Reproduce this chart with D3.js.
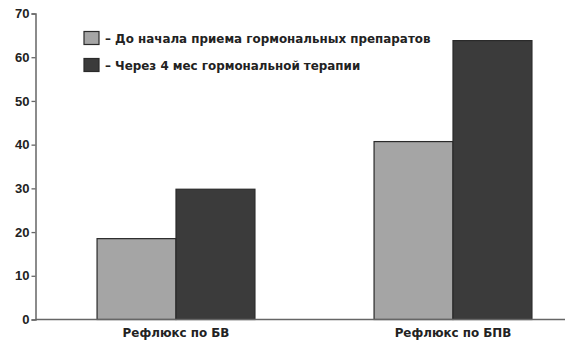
<!DOCTYPE html>
<html><head><meta charset="utf-8">
<script src="https://cdn.jsdelivr.net/npm/d3@7"></script>
<style>html,body{margin:0;padding:0;background:#fff;}svg{display:block;}</style>
</head><body>
<svg id="c" width="565" height="343"></svg>
<script>
const categories = ["Рефлюкс по БВ", "Рефлюкс по БПВ"];
const seriesNames = ["– До начала приема гормональных препаратов", "– Через 4 мес гормональной терапии"];
const before = [18.5, 40.7];
const after = [29.8, 63.8];
const yTicks = [0, 10, 20, 30, 40, 50, 60, 70];
const colors = ["#a5a5a5", "#3b3b3b"];

const svg = d3.select("#c");
const font = "'Liberation Sans', Arial, sans-serif";
const font2 = "'DejaVu Sans', sans-serif";
const y = d3.scaleLinear().domain([0, 70]).range([319.5, 13.5]);
const x = d3.scaleBand().domain(categories).range([37.5, 591.5]).paddingInner(0.43).paddingOuter(0.215);
const series = [before, after];
const xs = d3.scaleBand().domain([0, 1]).range([0, x.bandwidth()]);

// bars
categories.forEach((c, i) => {
  series.forEach((s, k) => {
    svg.append("rect")
      .attr("x", x(c) + xs(k))
      .attr("y", y(s[i]))
      .attr("width", xs.bandwidth())
      .attr("height", y(0) - y(s[i]))
      .attr("fill", colors[k])
      .attr("stroke", "#2a2a2a")
      .attr("stroke-width", 1.2);
  });
});

// baseline
svg.append("line").attr("x1", 35.5).attr("x2", 565).attr("y1", y(0)).attr("y2", y(0))
  .attr("stroke", "#666").attr("stroke-width", 1.5);

// y axis
const ax = svg.append("g").attr("transform", "translate(35.5,0)")
  .call(d3.axisLeft(y).tickValues(yTicks).tickSize(4).tickPadding(2).tickFormat(d3.format("d")));
ax.select(".domain").attr("stroke", "#666").attr("stroke-width", 1.5);
ax.selectAll(".tick line").attr("stroke", "#666").attr("stroke-width", 1.3);
ax.selectAll("text").attr("font-family", font).attr("font-weight", "bold").attr("font-size", 13).attr("fill", "#222");

// x labels
svg.selectAll(".xl").data(categories).join("text")
  .attr("x", d => x(d) + x.bandwidth() / 2)
  .attr("y", 337)
  .attr("text-anchor", "middle")
  .attr("font-family", font2).attr("font-weight", "bold").attr("font-size", 11.9).attr("fill", "#222")
  .text(d => d);

// legend
seriesNames.forEach((n, k) => {
  const ly = 38.5 + k * 27;
  svg.append("rect").attr("x", 84).attr("y", ly - 7).attr("width", 15).attr("height", 13)
    .attr("fill", colors[k]).attr("stroke", "#2a2a2a").attr("stroke-width", 1.2);
  svg.append("text").attr("x", 105).attr("y", ly + 4)
    .attr("font-family", font2).attr("font-weight", "bold").attr("font-size", 11.9).attr("fill", "#222")
    .text(n);
});
</script>
</body></html>
